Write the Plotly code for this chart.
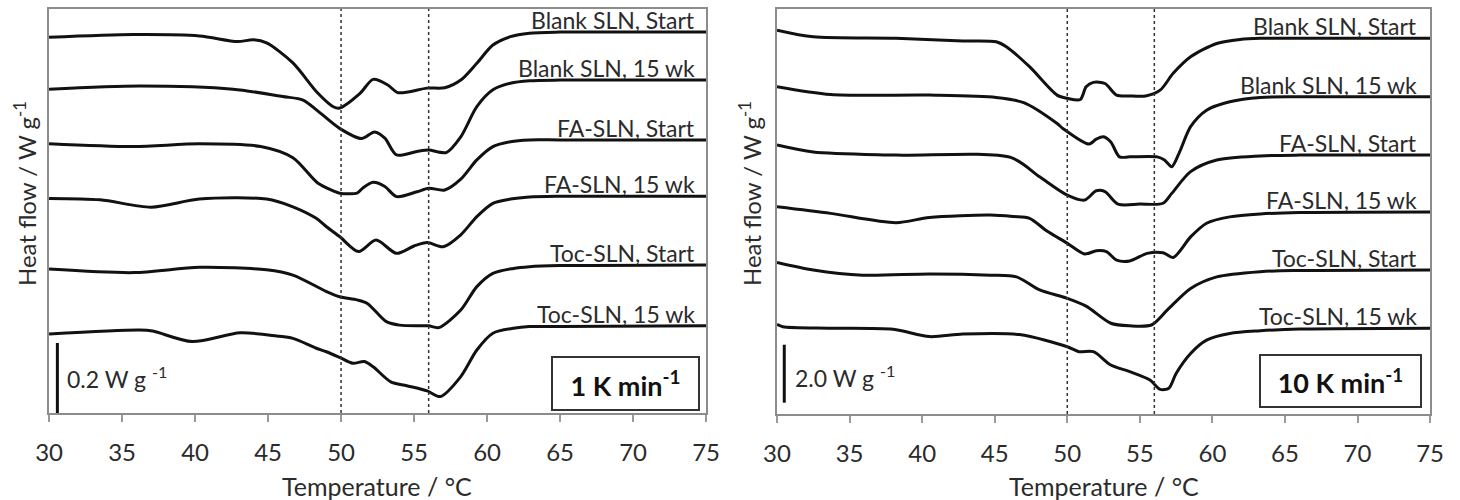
import plotly.graph_objects as go

# DSC heating curves of SLN dispersions, stacked with vertical offsets (W g-1)
labels = ["Blank SLN, Start", "Blank SLN, 15 wk", "FA-SLN, Start",
          "FA-SLN, 15 wk", "Toc-SLN, Start", "Toc-SLN, 15 wk"]

# ---- 1 K/min ----
t1_blank_start = [30.0, 35.8, 40.3, 42.9, 44.0, 44.9, 46.7, 48.4, 49.5, 49.9, 51.3, 52.2, 53.2, 53.9,
                  55.9, 57.1, 58.2, 59.3, 60.4, 61.6, 62.9, 65.0, 75.0]
h1_blank_start = [1.073, 1.081, 1.077, 1.061, 1.066, 1.057, 1.000, 0.914, 0.874, 0.871, 0.913, 0.953,
                  0.937, 0.915, 0.928, 0.929, 0.951, 0.999, 1.051, 1.075, 1.085, 1.088, 1.088]

t1_blank_15 = [30.0, 36.2, 42.6, 46.0, 47.4, 48.4, 49.9, 51.4, 52.3, 53.0, 53.8, 55.2, 56.0, 57.2,
               58.2, 59.3, 60.4, 61.6, 62.9, 65.0, 75.0]
h1_blank_15 = [0.925, 0.934, 0.925, 0.904, 0.894, 0.863, 0.813, 0.784, 0.803, 0.785, 0.737, 0.747,
               0.751, 0.744, 0.789, 0.875, 0.923, 0.942, 0.949, 0.951, 0.951]

t1_fa_start = [30.0, 35.8, 40.3, 44.5, 46.7, 48.4, 49.5, 49.9, 51.1, 51.5, 52.2, 53.0, 53.8, 55.2,
               56.0, 57.1, 58.2, 59.3, 60.4, 61.6, 62.9, 65.0, 75.0]
h1_fa_start = [0.769, 0.761, 0.769, 0.761, 0.729, 0.657, 0.634, 0.628, 0.628, 0.643, 0.659, 0.647,
               0.618, 0.632, 0.642, 0.637, 0.668, 0.723, 0.761, 0.775, 0.780, 0.780, 0.780]

t1_fa_15 = [30.0, 33.5, 37.0, 40.3, 44.9, 46.7, 48.3, 49.0, 49.9, 51.2, 52.4, 53.8, 55.0, 55.9,
            57.0, 58.2, 59.3, 60.4, 61.6, 62.9, 65.0, 75.0]
h1_fa_15 = [0.613, 0.609, 0.588, 0.611, 0.611, 0.589, 0.556, 0.532, 0.504, 0.461, 0.494, 0.456,
            0.477, 0.487, 0.475, 0.509, 0.561, 0.599, 0.611, 0.617, 0.619, 0.619]

t1_toc_start = [30.0, 35.8, 40.3, 44.9, 46.7, 49.0, 49.9, 51.1, 51.8, 53.1, 54.0, 55.4, 56.0, 56.7,
                58.2, 59.3, 60.4, 61.8, 62.9, 65.0, 75.0]
h1_toc_start = [0.411, 0.401, 0.416, 0.409, 0.394, 0.347, 0.332, 0.323, 0.313, 0.261, 0.251, 0.249,
                0.249, 0.244, 0.294, 0.361, 0.399, 0.413, 0.418, 0.421, 0.423]

t1_toc_15 = [30.0, 36.2, 37.1, 39.8, 43.1, 45.6, 46.7, 48.3, 49.0, 49.9, 50.8, 51.6, 52.2, 53.4,
             54.5, 55.9, 56.8, 58.2, 59.3, 60.4, 61.8, 62.9, 65.0, 75.0]
h1_toc_15 = [0.226, 0.237, 0.234, 0.204, 0.229, 0.220, 0.213, 0.185, 0.175, 0.159, 0.142, 0.147,
             0.132, 0.089, 0.078, 0.063, 0.047, 0.104, 0.180, 0.228, 0.242, 0.247, 0.247, 0.249]

# ---- 10 K/min ----
t10_blank_start = [30.0, 32.5, 38.2, 42.8, 45.1, 45.8, 47.4, 49.3, 50.0, 50.9, 51.3, 51.8, 52.6, 53.4,
                   54.3, 55.4, 56.4, 57.3, 58.5, 60.3, 61.9, 63.3, 66.0, 75.0]
h10_blank_start = [13.24, 13.01, 12.96, 12.87, 12.84, 12.67, 11.98, 11.00, 10.89, 10.85, 11.29, 11.44,
                   11.40, 11.00, 10.97, 10.97, 11.17, 11.75, 12.32, 12.78, 12.92, 12.96, 12.96, 12.96]

t10_blank_15 = [30.0, 33.7, 40.5, 45.1, 47.0, 49.3, 49.7, 51.5, 52.0, 52.5, 53.0, 53.6, 54.3, 56.2,
                56.7, 57.2, 57.7, 58.5, 59.6, 61.2, 63.3, 66.0, 75.0]
h10_blank_15 = [11.29, 11.02, 11.00, 10.92, 10.74, 10.02, 9.85, 9.31, 9.48, 9.56, 9.38, 8.87, 8.87,
                8.87, 8.76, 8.53, 8.99, 9.91, 10.48, 10.77, 10.92, 10.94, 10.94]

t10_fa_start = [30.0, 32.5, 38.2, 46.1, 48.1, 50.0, 51.2, 52.0, 52.6, 53.5, 55.0, 56.6, 57.2, 58.5,
                60.3, 63.3, 66.0, 75.0]
h10_fa_start = [9.28, 9.04, 8.93, 8.85, 8.18, 7.55, 7.38, 7.70, 7.67, 7.24, 7.24, 7.27, 7.61, 8.36,
                8.76, 8.90, 8.93, 8.93]

t10_fa_15 = [30.0, 33.7, 38.2, 40.5, 44.7, 46.3, 47.4, 48.6, 50.0, 51.2, 52.0, 52.7, 53.4, 54.3,
             55.5, 56.6, 57.3, 58.5, 59.6, 61.2, 63.3, 66.0, 75.0]
h10_fa_15 = [7.15, 6.92, 6.60, 6.78, 6.86, 6.81, 6.75, 6.31, 5.89, 5.52, 5.63, 5.60, 5.31, 5.28,
             5.54, 5.56, 5.40, 6.11, 6.58, 6.80, 6.90, 6.95, 6.97]

t10_toc_start = [30.0, 32.5, 35.9, 40.5, 44.7, 46.5, 48.1, 50.0, 51.3, 53.0, 54.3, 55.8, 56.9, 58.5,
                 60.3, 63.3, 66.0, 75.0]
h10_toc_start = [5.23, 4.97, 4.79, 4.83, 4.79, 4.73, 4.28, 3.99, 3.72, 3.13, 3.04, 3.07, 3.59, 4.33,
                 4.73, 4.91, 4.95, 4.97]

t10_toc_15 = [30.0, 30.4, 33.7, 38.0, 40.5, 42.8, 46.7, 50.0, 50.8, 51.8, 53.0, 54.3, 55.7, 56.4,
              57.0, 57.5, 58.5, 59.6, 61.2, 63.3, 66.0, 75.0]
h10_toc_15 = [3.09, 3.01, 2.96, 2.92, 2.67, 2.76, 2.74, 2.32, 2.15, 2.15, 1.69, 1.46, 1.17, 0.85,
              0.89, 1.40, 2.09, 2.55, 2.78, 2.87, 2.93, 2.96]

curves_1 = [(t1_blank_start, h1_blank_start), (t1_blank_15, h1_blank_15),
            (t1_fa_start, h1_fa_start), (t1_fa_15, h1_fa_15),
            (t1_toc_start, h1_toc_start), (t1_toc_15, h1_toc_15)]
curves_10 = [(t10_blank_start, h10_blank_start), (t10_blank_15, h10_blank_15),
             (t10_fa_start, h10_fa_start), (t10_fa_15, h10_fa_15),
             (t10_toc_start, h10_toc_start), (t10_toc_15, h10_toc_15)]

x_ticks = [30, 35, 40, 45, 50, 55, 60, 65, 70, 75]
ref_temps = [50, 56]
scale_1 = (0.0, 0.2)      # 0.2 W g-1 scale bar
scale_10 = (0.39, 2.39)   # 2.0 W g-1 scale bar

FONT = "Lato, 'Open Sans', sans-serif"
TXT = "#2b2b2b"

fig = go.Figure()


def add_panel(curves, xa, ya):
    for (t, h), name in zip(curves, labels):
        fig.add_trace(go.Scatter(x=t, y=h, mode="lines", name=name, xaxis=xa, yaxis=ya,
                                 line=dict(color="#111111", width=3, shape="spline", smoothing=0.8),
                                 showlegend=False, hoverinfo="skip"))


add_panel(curves_1, "x", "y")
add_panel(curves_10, "x2", "y2")

# scale bars
fig.add_trace(go.Scatter(x=[30.57, 30.57], y=list(scale_1), mode="lines", xaxis="x", yaxis="y",
                         line=dict(color="#111111", width=3), showlegend=False, hoverinfo="skip"))
fig.add_trace(go.Scatter(x=[30.5, 30.5], y=list(scale_10), mode="lines", xaxis="x2", yaxis="y2",
                         line=dict(color="#111111", width=3), showlegend=False, hoverinfo="skip"))

# reference temperatures
for xr, yr in (("x", "y"), ("x2", "y2")):
    for tv in ref_temps:
        fig.add_shape(type="line", xref=xr, yref=f"{yr} domain", x0=tv, x1=tv, y0=0, y1=1,
                      line=dict(color="#333333", width=1.5, dash="dot"))

axis_common = dict(showgrid=False, zeroline=False, showline=True, linecolor="#8c8c8c",
                   linewidth=1.5, mirror=True, automargin=False)
xaxis_style = dict(axis_common, range=[30, 75], tickvals=x_ticks, ticks="outside", ticklen=7,
                   tickwidth=1.5, tickcolor="#9a9a9a", ticklabelstandoff=10,
                   tickfont=dict(family=FONT, size=24, color=TXT))
yaxis_style = dict(axis_common, showticklabels=False, ticks="")

fig.update_layout(
    width=1460, height=500, margin=dict(l=0, r=0, t=0, b=0, autoexpand=False),
    paper_bgcolor="white", plot_bgcolor="white",
    xaxis=dict(xaxis_style, domain=[0.0336, 0.4836], anchor="y"),
    yaxis=dict(yaxis_style, domain=[0.174, 0.982], range=[0, 1.154], anchor="x"),
    xaxis2=dict(xaxis_style, domain=[0.5322, 0.9795], anchor="y2"),
    yaxis2=dict(yaxis_style, domain=[0.172, 0.982], range=[0, 13.97], anchor="x2"),
)

ann = []
# curve labels, sitting on each curve's high-temperature baseline
for (t, h), name in zip(curves_1, labels):
    ann.append(dict(x=74.4, y=h[-1], xref="x", yref="y", text=name, showarrow=False,
                    xanchor="right", yanchor="bottom", yshift=-4,
                    font=dict(family=FONT, size=23, color=TXT)))
for (t, h), name in zip(curves_10, labels):
    ann.append(dict(x=74.25, y=h[-1], xref="x2", yref="y2", text=name, showarrow=False,
                    xanchor="right", yanchor="bottom", yshift=-4,
                    font=dict(family=FONT, size=23, color=TXT)))

# scale bar labels
ann.append(dict(x=31.1, y=(scale_1[0] + scale_1[1]) / 2, xref="x", yref="y",
                text="0.2 W g <sup>-1</sup>", showarrow=False, xanchor="left", yanchor="middle",
                font=dict(family=FONT, size=23, color=TXT)))
ann.append(dict(x=31.1, y=(scale_10[0] + scale_10[1]) / 2 - 0.1, xref="x2", yref="y2",
                text="2.0 W g <sup>-1</sup>", showarrow=False, xanchor="left", yanchor="middle",
                font=dict(family=FONT, size=23, color=TXT)))

# heating-rate boxes
ann.append(dict(x=69.51, y=0.085, xref="x", yref="y", text="<b>1 K min<sup>-1</sup></b>",
                showarrow=False, width=143, height=49, bordercolor="#333333", borderwidth=2,
                borderpad=1, bgcolor="white", font=dict(family=FONT, size=27, color="#111111")))
ann.append(dict(x=68.81, y=1.13, xref="x2", yref="y2", text="<b>10 K min<sup>-1</sup></b>",
                showarrow=False, width=157, height=48, bordercolor="#333333", borderwidth=2,
                borderpad=1, bgcolor="white", font=dict(family=FONT, size=27, color="#111111")))

# axis titles
for cx in (377.5 / 1460, 1103.5 / 1460):
    ann.append(dict(x=cx, y=1 - 486 / 500, xref="paper", yref="paper", text="Temperature / °C",
                    showarrow=False, xanchor="center", yanchor="middle",
                    font=dict(family=FONT, size=25, color=TXT)))
for cx in (25 / 1460, 750 / 1460):
    ann.append(dict(x=cx, y=1 - 194 / 500, xref="paper", yref="paper",
                    text="Heat flow / W g<sup>-1</sup>", textangle=-90, showarrow=False,
                    xanchor="center", yanchor="middle",
                    font=dict(family=FONT, size=24, color=TXT)))

fig.update_layout(annotations=ann)
fig.write_html("out.html")
